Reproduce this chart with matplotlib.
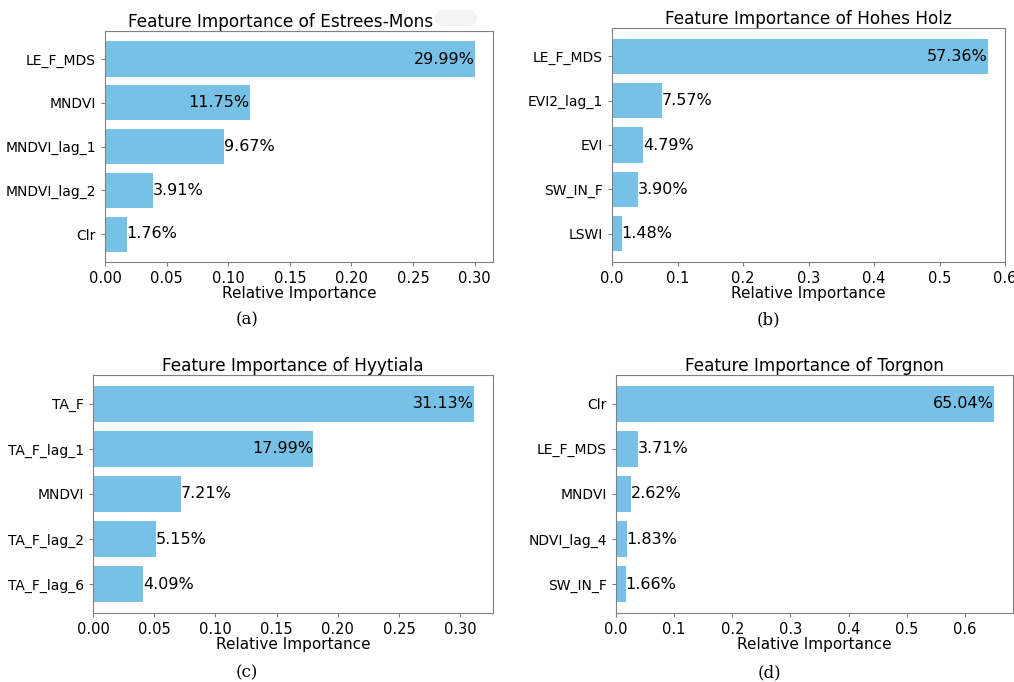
import matplotlib.pyplot as plt
from matplotlib.patches import FancyBboxPatch

# data for the four sites (top bar first)
site_a = 'Estrees-Mons'
feat_a = ['LE_F_MDS', 'MNDVI', 'MNDVI_lag_1', 'MNDVI_lag_2', 'Clr']
imp_a = [0.2999, 0.1175, 0.0967, 0.0391, 0.0176]

site_b = 'Hohes Holz'
feat_b = ['LE_F_MDS', 'EVI2_lag_1', 'EVI', 'SW_IN_F', 'LSWI']
imp_b = [0.5736, 0.0757, 0.0479, 0.0390, 0.0148]

site_c = 'Hyytiala'
feat_c = ['TA_F', 'TA_F_lag_1', 'MNDVI', 'TA_F_lag_2', 'TA_F_lag_6']
imp_c = [0.3113, 0.1799, 0.0721, 0.0515, 0.0409]

site_d = 'Torgnon'
feat_d = ['Clr', 'LE_F_MDS', 'MNDVI', 'NDVI_lag_4', 'SW_IN_F']
imp_d = [0.6504, 0.0371, 0.0262, 0.0183, 0.0166]

captions = ['(a)', '(b)', '(c)', '(d)']

BAR_COLOR = '#78c1e6'
W, H = 1014, 682

fig = plt.figure(figsize=(W / 100, H / 100), dpi=100)


def px_axes(left, top, right, bottom):
    # axes placed by pixel box (y measured from top of image)
    return fig.add_axes([left / W, 1 - bottom / H, (right - left) / W, (bottom - top) / H])


def draw_panel(ax, site, feats, imps, title_x=0.5):
    ypos = list(range(len(feats)))[::-1]
    ax.barh(ypos, imps, color=BAR_COLOR, height=0.8)
    ax.set_yticks(ypos)
    ax.set_yticklabels(feats, fontsize=10)
    ax.tick_params(axis='x', labelsize=10.5, color='#808080', length=3)
    ax.tick_params(axis='y', color='#808080', length=3)
    for y, v in zip(ypos, imps):
        txt = f'{v * 100:.2f}%'
        if v > 0.1:
            ax.text(v, y, txt, ha='right', va='center', fontsize=11.5)
        else:
            ax.text(v, y, txt, ha='left', va='center', fontsize=11.5)
    ax.set_title(f'Feature Importance of {site}', fontsize=12.2, pad=3, x=title_x)
    ax.set_xlabel('Relative Importance', fontsize=11, labelpad=0)
    for s in ax.spines.values():
        s.set_color('#808080')


ax_a = px_axes(105, 31, 493, 262)
draw_panel(ax_a, site_a, feat_a, imp_a, title_x=0.452)
ax_a.set_xticks([0.0, 0.05, 0.10, 0.15, 0.20, 0.25, 0.30])
ax_a.set_xticklabels(['0.00', '0.05', '0.10', '0.15', '0.20', '0.25', '0.30'])

ax_b = px_axes(612, 28, 1005, 262)
draw_panel(ax_b, site_b, feat_b, imp_b)
ax_b.set_xlim(0, 0.6)

ax_c = px_axes(93, 375, 493, 613)
draw_panel(ax_c, site_c, feat_c, imp_c)
ax_c.set_xticks([0.0, 0.05, 0.10, 0.15, 0.20, 0.25, 0.30])
ax_c.set_xticklabels(['0.00', '0.05', '0.10', '0.15', '0.20', '0.25', '0.30'])

ax_d = px_axes(616, 375, 1013, 613)
draw_panel(ax_d, site_d, feat_d, imp_d)

# captions under each panel
cap_xy = [(247, 320), (768, 320), (247, 673), (769, 673)]
for cap, (cx, cy) in zip(captions, cap_xy):
    fig.text(cx / W, 1 - cy / H, cap, ha='center', va='center',
             fontsize=12, family='DejaVu Serif')

# faint grey blot next to the first title
fig.patches.append(FancyBboxPatch((435 / W, 1 - 26 / H), 42 / W, 16 / H,
                                  boxstyle='round,pad=0,rounding_size=0.01',
                                  transform=fig.transFigure, facecolor='#f4f4f4',
                                  edgecolor='none'))

fig.savefig('out.png', dpi=100)
